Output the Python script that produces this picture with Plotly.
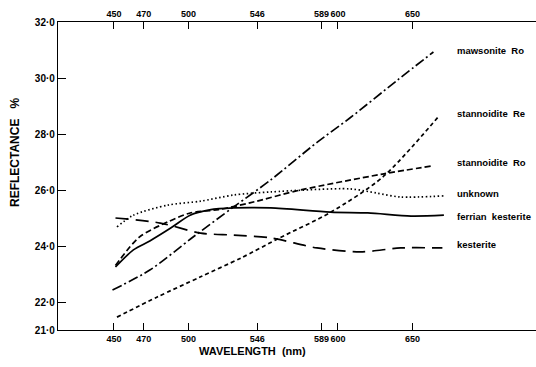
import plotly.graph_objects as go

# ---- data ----
tick_wl = [450, 470, 500, 546, 589, 600, 650]
y_ticks = [21, 22, 24, 26, 28, 30, 32]
y_ticktext = ["21·0", "22·0", "24·0", "26·0", "28·0", "30·0", "32·0"]

maw_x = [449, 474, 503, 530, 555, 586, 608, 640, 664]
maw_y = [22.43, 23.14, 24.32, 25.39, 26.36, 27.7, 28.57, 29.93, 30.93]

stRe_x = [452, 479, 508, 535, 561, 595, 630, 667]
stRe_y = [21.46, 22.18, 22.9, 23.57, 24.29, 25.2, 26.46, 28.6]

stRo_x = [451, 467, 486, 501, 520, 541, 575, 630, 663]
stRo_y = [23.3, 24.32, 24.86, 25.18, 25.3, 25.54, 26.0, 26.57, 26.86]

unk_x = [452, 463, 486, 508, 530, 555, 608, 626, 642, 671]
unk_y = [24.68, 25.1, 25.46, 25.6, 25.82, 25.93, 26.04, 25.89, 25.75, 25.79]

fer_x = [451, 463, 474, 488, 501, 514, 530, 555, 595, 620, 649, 671]
fer_y = [23.25, 23.86, 24.18, 24.64, 25.1, 25.29, 25.36, 25.36, 25.21, 25.18, 25.07, 25.1]

kes_x = [451, 481, 508, 530, 555, 586, 615, 642, 670]
kes_y = [25.0, 24.82, 24.46, 24.39, 24.29, 23.93, 23.79, 23.93, 23.93]

labels = ["mawsonite  Ro", "stannoidite  Re", "stannoidite  Ro", "unknown", "ferrian  kesterite", "kesterite"]
label_y = [31.0, 28.75, 27.0, 25.86, 25.04, 24.07]

series = [
    (maw_x, maw_y, "10px,3px,2px,3px"),
    (stRe_x, stRe_y, "4px,3px"),
    (stRo_x, stRo_y, "6px,3px"),
    (unk_x, unk_y, "1.5px,2.5px"),
    (fer_x, fer_y, "solid"),
    (kes_x, kes_y, "13px,7px"),
]

FONT = "Liberation Sans, Arial, sans-serif"
XR = [412.5, 732.7]

fig = go.Figure()
for (xs, ys, dash), name in zip(series, labels):
    fig.add_trace(go.Scatter(x=xs, y=ys, mode="lines", name=name,
                             line=dict(color="black", width=1.7, dash=dash, shape="spline", smoothing=0.8),
                             showlegend=False, hoverinfo="skip"))

# invisible trace to anchor top axis
fig.add_trace(go.Scatter(x=[XR[0]], y=[21], xaxis="x2", mode="markers",
                         marker=dict(opacity=0), showlegend=False, hoverinfo="skip"))

for lab, ly in zip(labels, label_y):
    fig.add_annotation(x=678.5, y=ly, text=lab, showarrow=False, xanchor="left", yanchor="middle",
                       font=dict(family=FONT, size=9.5, color="black", weight="bold"))

fig.add_annotation(xref="paper", yref="paper", x=(252 - 58) / 478, y=-21 / 308, text="WAVELENGTH  (nm)",
                   showarrow=False, xanchor="center", yanchor="middle",
                   font=dict(family=FONT, size=11, color="black", weight="bold"))
fig.add_annotation(xref="paper", yref="paper", x=(15 - 58) / 478, y=(330 - 153) / 308, text="REFLECTANCE   %",
                   showarrow=False, textangle=-90, xanchor="center", yanchor="middle",
                   font=dict(family=FONT, size=12, color="black", weight="bold"))

axis_font = dict(family=FONT, size=10, color="black", weight="bold")
xtick_font = dict(family=FONT, size=9, color="black", weight="bold")
fig.update_layout(
    width=536, height=367,
    margin=dict(l=58, r=0, t=22, b=37),
    paper_bgcolor="white", plot_bgcolor="white",
    xaxis=dict(range=XR, tickvals=tick_wl, ticktext=[str(v) for v in tick_wl], tickangle=0,
               ticks="inside", ticklen=7, tickwidth=1.3, tickcolor="black",
               showline=True, linecolor="black", linewidth=1.3, showgrid=False, zeroline=False,
               tickfont=xtick_font, side="bottom"),
    xaxis2=dict(range=XR, tickvals=tick_wl, ticktext=[str(v) for v in tick_wl], tickangle=0,
                overlaying="x", side="top", anchor="y",
                ticks="inside", ticklen=7, tickwidth=1.3, tickcolor="black",
                showline=True, linecolor="black", linewidth=1.3, showgrid=False, zeroline=False,
                tickfont=xtick_font),
    yaxis=dict(range=[21, 32], tickvals=y_ticks, ticktext=y_ticktext,
               ticks="inside", ticklen=8, tickwidth=1.3, tickcolor="black",
               showline=True, linecolor="black", linewidth=1.3, showgrid=False, zeroline=False,
               tickfont=axis_font),
)

fig.write_html("out.html")
